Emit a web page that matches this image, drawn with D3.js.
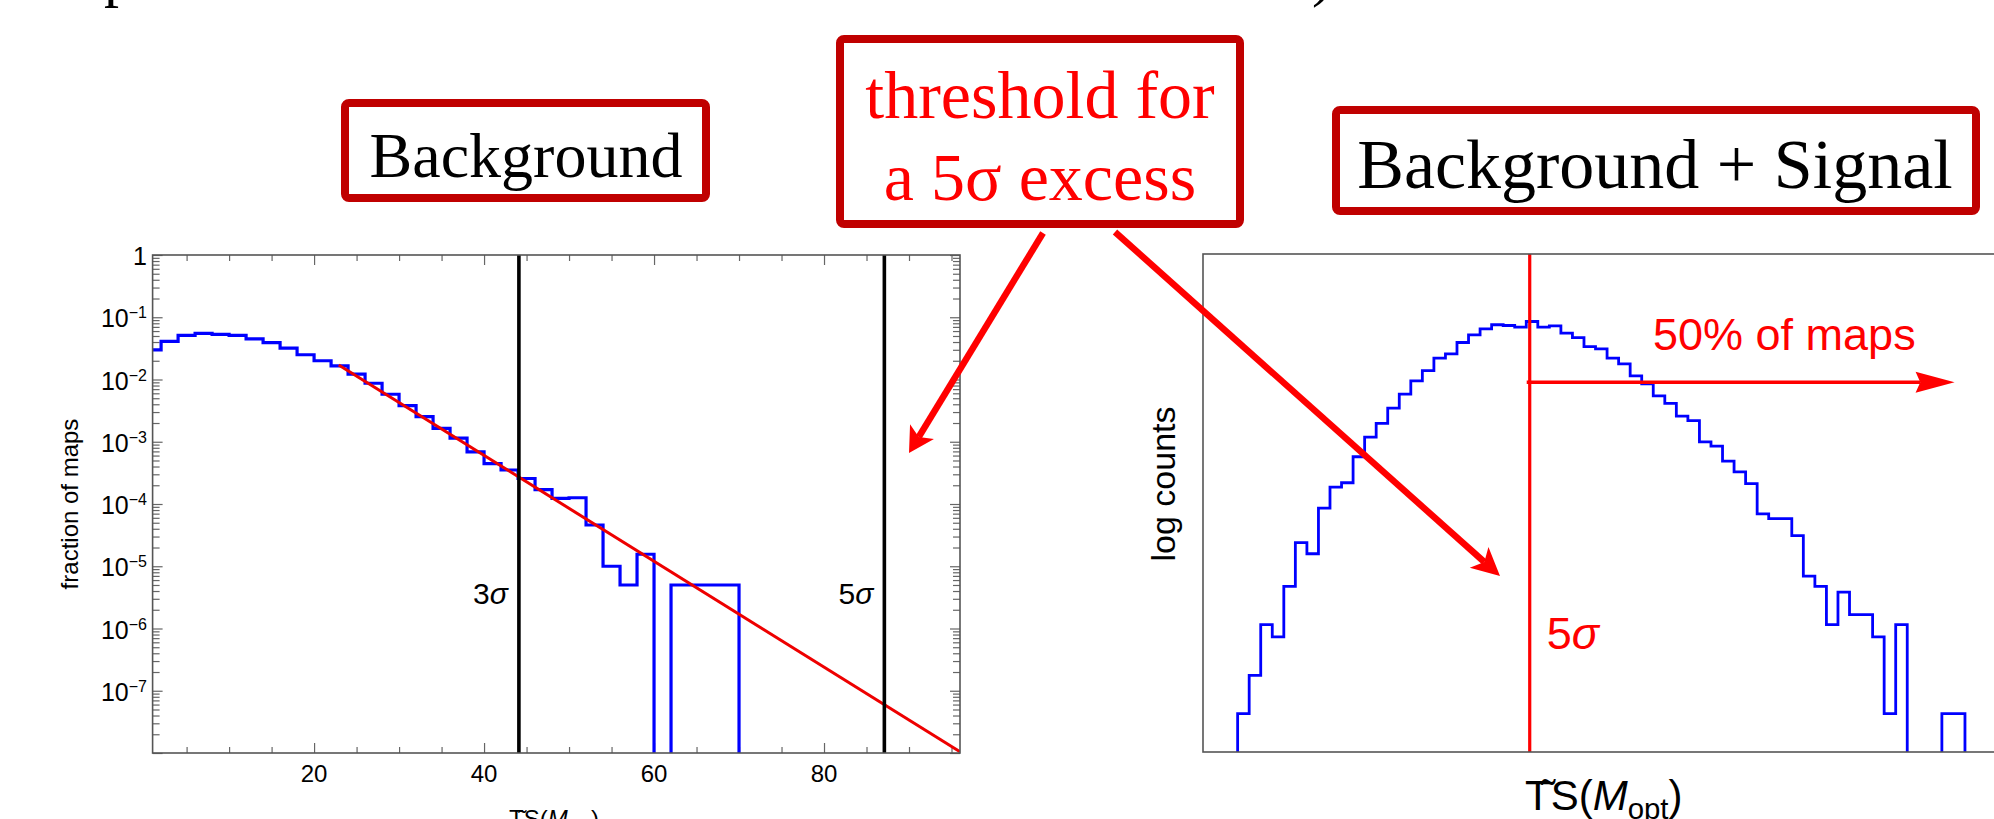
<!DOCTYPE html>
<html>
<head>
<meta charset="utf-8">
<script src="https://cdn.jsdelivr.net/npm/d3@7"></script>
<style>
  body { margin: 0; background: #fff; }
  svg { display: block; }
</style>
</head>
<body>
<svg id="chart" width="1994" height="819"></svg>
<script>
// ---------- data: background-only maps (left panel) ----------
const bgEdges = [0, 2, 4, 6, 8, 10, 12, 14, 16, 18, 20, 22, 24, 26, 28, 30, 32, 34,
                 36, 38, 40, 42, 44, 46, 48, 50, 52, 54, 56, 58, 60, 62, 64, 66, 68, 70];
const bgFraction = [0.030, 0.041, 0.051, 0.055, 0.053, 0.051, 0.045, 0.039, 0.032, 0.025,
                    0.020, 0.0165, 0.0122, 0.0087, 0.0058, 0.0038, 0.00253, 0.00164, 0.00114, 0.00069,
                    0.000445, 0.000352, 0.000257, 0.00017, 0.000123, 0.000126, 0.000046, 0.00001, 0.000005, 0.0000156,
                    0, 0.000005, 0.000005, 0.000005, 0.000005];
const bgFit = [[22.9, 1.71e-2], [96, 1.05e-8]];
const sigmaNames = ["3", "5"];
const sigmaTS = [44.1, 87.1];
const bgXTicks = [20, 40, 60, 80];
const bgXMinor = [5, 10, 15, 25, 30, 35, 45, 50, 55, 65, 70, 75, 85, 90, 95];
const bgYExponents = [0, -1, -2, -3, -4, -5, -6, -7, -8];

// ---------- data: background + signal maps (right panel) ----------
const sigCounts = [1, 2, 5, 4, 10, 22, 18, 41, 60, 65,
                   104, 148, 190, 250, 322, 410, 494, 618, 668, 820,
                   942, 1050, 1130, 1115, 1083, 1198, 1083, 1109, 971, 897,
                   762, 731, 618, 557, 449, 388, 312, 273, 217, 200,
                   136, 126, 96, 79, 64, 37, 34, 34, 25, 12,
                   10, 5, 9, 6, 6, 4, 1, 5, 0, 0,
                   0, 1, 1];
const sigThreshold = 25.3;   // bin position of the 5 sigma threshold
const sigArrowEnd = 62.1;
const sigArrowCount = 400;

// ---------- layout ----------
const L = { left: 152.6, right: 960, top: 255, bottom: 753 };
const R = { left: 1203, right: 1999.6, top: 254, bottom: 752 };
const sans = "'Liberation Sans', Arial, sans-serif";
const serif = "'Liberation Serif', 'Times New Roman', serif";
const boxRed = "#c00000";

const svg = d3.select("#chart");
const defs = svg.append("defs");

const xL = d3.scaleLinear().domain([1, 96]).range([L.left, L.right]);
const yL = d3.scaleLog().domain([1e-8, 1]).range([L.bottom, L.top]);
const xR = d3.scaleLinear().domain([-3, 66]).range([R.left, R.right]);
const yR = d3.scaleLog().domain([0.5, 4060]).range([R.bottom, R.top]);

defs.append("clipPath").attr("id", "clip-left")
    .append("rect").attr("x", L.left).attr("y", L.top)
    .attr("width", L.right - L.left).attr("height", L.bottom - L.top);
defs.append("clipPath").attr("id", "clip-right")
    .append("rect").attr("x", R.left).attr("y", R.top)
    .attr("width", R.right - R.left).attr("height", R.bottom - R.top);

function stepPoints(edges, values, x, y, floor) {
    const pts = [];
    values.forEach((v, i) => {
        const yy = v > 0 ? y(v) : floor;
        pts.push([x(edges[i]), yy], [x(edges[i + 1]), yy]);
    });
    return pts;
}

function arrow(g, x1, y1, x2, y2, width, len, wid, notch) {
    const a = Math.atan2(y2 - y1, x2 - x1);
    const back = len * notch;
    g.append("line")
        .attr("x1", x1).attr("y1", y1)
        .attr("x2", x2 - Math.cos(a) * back).attr("y2", y2 - Math.sin(a) * back)
        .attr("stroke", "#ff0000").attr("stroke-width", width);
    g.append("path")
        .attr("d", `M0,0L${-len},${-wid / 2}L${-back},0L${-len},${wid / 2}Z`)
        .attr("transform", `translate(${x2},${y2}) rotate(${a * 180 / Math.PI})`)
        .attr("fill", "#ff0000");
}

function tickGroup(axis, transform) {
    svg.append("g")
        .attr("transform", transform)
        .attr("color", "#666")
        .call(axis.tickSizeOuter(0).tickFormat(""))
        .call(g => g.select(".domain").remove())
        .call(g => g.selectAll("line").attr("stroke-width", 1.2));
}

// ---------- left panel ----------
const decades = bgYExponents.map(e => Math.pow(10, e));
const minorY = yL.ticks().filter(v => Math.abs(Math.log10(v) - Math.round(Math.log10(v))) > 1e-6);

tickGroup(d3.axisTop(xL).tickValues(bgXTicks).tickSize(10), `translate(0,${L.bottom})`);
tickGroup(d3.axisTop(xL).tickValues(bgXMinor).tickSize(6), `translate(0,${L.bottom})`);
tickGroup(d3.axisBottom(xL).tickValues(bgXTicks).tickSize(10), `translate(0,${L.top})`);
tickGroup(d3.axisBottom(xL).tickValues(bgXMinor).tickSize(6), `translate(0,${L.top})`);
tickGroup(d3.axisRight(yL).tickValues(decades).tickSize(10), `translate(${L.left},0)`);
tickGroup(d3.axisRight(yL).tickValues(minorY).tickSize(7), `translate(${L.left},0)`);
tickGroup(d3.axisLeft(yL).tickValues(decades).tickSize(10), `translate(${L.right},0)`);
tickGroup(d3.axisLeft(yL).tickValues(minorY).tickSize(7), `translate(${L.right},0)`);

const leftPlot = svg.append("g").attr("clip-path", "url(#clip-left)");
const bgPts = stepPoints(bgEdges, bgFraction, xL, yL, L.bottom + 10);
bgPts.push([xL(bgEdges[bgEdges.length - 1]), L.bottom + 10]);
leftPlot.append("path")
    .attr("d", d3.line()(bgPts))
    .attr("fill", "none").attr("stroke", "#0000ff")
    .attr("stroke-width", 3.2).attr("stroke-linejoin", "miter");
leftPlot.append("path")
    .attr("d", d3.line().x(d => xL(d[0])).y(d => yL(d[1]))(bgFit))
    .attr("fill", "none").attr("stroke", "#ee0000").attr("stroke-width", 3);

sigmaTS.forEach((s, i) => {
    svg.append("line")
        .attr("x1", xL(s)).attr("x2", xL(s))
        .attr("y1", L.top).attr("y2", L.bottom)
        .attr("stroke", "#000").attr("stroke-width", 3.6);
    const t = svg.append("text")
        .attr("x", xL(s) - 11).attr("y", 604)
        .attr("text-anchor", "end")
        .attr("font-family", sans).attr("font-size", 30);
    t.append("tspan").text(sigmaNames[i]);
    t.append("tspan").attr("font-style", "italic").text("σ");
});

svg.append("rect")
    .attr("x", L.left).attr("y", L.top)
    .attr("width", L.right - L.left).attr("height", L.bottom - L.top)
    .attr("fill", "none").attr("stroke", "#555").attr("stroke-width", 1.6);

svg.append("g").selectAll("text")
    .data(bgXTicks)
    .join("text")
    .attr("x", d => xL(d)).attr("y", 782)
    .attr("text-anchor", "middle")
    .attr("font-family", sans).attr("font-size", 24)
    .text(d => d);

const yLab = svg.append("g").selectAll("text")
    .data(bgYExponents.filter(e => e > -8))
    .join("text")
    .attr("x", 147).attr("y", d => yL(Math.pow(10, d)) + 10)
    .attr("text-anchor", "end")
    .attr("font-family", sans).attr("font-size", 25);
yLab.filter(d => d === 0).text("1");
yLab.filter(d => d !== 0).each(function (d) {
    const t = d3.select(this);
    t.append("tspan").text("10");
    t.append("tspan").attr("dy", -9).attr("font-size", 16).text("\u2212" + (-d));
});

svg.append("text")
    .attr("transform", "translate(78,504) rotate(-90)")
    .attr("text-anchor", "middle")
    .attr("font-family", sans).attr("font-size", 24)
    .text("fraction of maps");

function tsLabel(x, y, size) {
    const t = svg.append("text")
        .attr("x", x).attr("y", y)
        .attr("font-family", sans).attr("font-size", size);
    t.append("tspan").text("TS(");
    t.append("tspan").attr("font-style", "italic").text("M");
    t.append("tspan").attr("dy", size * 0.22).attr("font-size", size * 0.7).text("opt");
    t.append("tspan").attr("dy", -size * 0.22).text(")");
    svg.append("text")
        .attr("x", x + size * 0.56).attr("y", y)
        .attr("text-anchor", "middle")
        .attr("font-family", sans).attr("font-size", size)
        .text("\u02DC");
}
tsLabel(509, 827, 24);

// ---------- right panel ----------
const rightPlot = svg.append("g").attr("clip-path", "url(#clip-right)");
const sigEdges = d3.range(sigCounts.length + 1);
const sigPts = stepPoints(sigEdges, sigCounts, xR, yR, R.bottom + 10);
sigPts.unshift([xR(0), R.bottom + 10]);
sigPts.push([xR(sigCounts.length), R.bottom + 10]);
rightPlot.append("path")
    .attr("d", d3.line()(sigPts))
    .attr("fill", "none").attr("stroke", "#0000ff")
    .attr("stroke-width", 2.8).attr("stroke-linejoin", "miter");

rightPlot.append("line")
    .attr("x1", xR(sigThreshold)).attr("x2", xR(sigThreshold))
    .attr("y1", R.top).attr("y2", R.bottom)
    .attr("stroke", "#ff0000").attr("stroke-width", 3.2);

svg.append("rect")
    .attr("x", R.left).attr("y", R.top)
    .attr("width", R.right - R.left + 20).attr("height", R.bottom - R.top)
    .attr("fill", "none").attr("stroke", "#555").attr("stroke-width", 1.6);

const annot = svg.append("g");
arrow(annot, xR(sigThreshold) - 3, yR(sigArrowCount), xR(sigArrowEnd), yR(sigArrowCount), 3.4, 39, 21, 0.88);

annot.append("text")
    .attr("x", 1653).attr("y", 350)
    .attr("font-family", sans).attr("font-size", 45)
    .attr("fill", "#ff0000")
    .text("50% of maps");

const five = annot.append("text")
    .attr("x", xR(sigThreshold) + 17).attr("y", 649)
    .attr("font-family", sans).attr("font-size", 45)
    .attr("fill", "#ff0000");
five.append("tspan").text("5");
five.append("tspan").attr("font-style", "italic").text("σ");

svg.append("text")
    .attr("transform", "translate(1175,484) rotate(-90)")
    .attr("text-anchor", "middle")
    .attr("font-family", sans).attr("font-size", 34)
    .text("log counts");

tsLabel(1525, 810, 42);

// ---------- boxes and arrows ----------
function box(x, y, w, h) {
    svg.append("rect")
        .attr("x", x).attr("y", y).attr("width", w).attr("height", h)
        .attr("rx", 4)
        .attr("fill", "#fff").attr("stroke", boxRed).attr("stroke-width", 8);
}

box(345, 103, 361, 95);
svg.append("text")
    .attr("x", 526).attr("y", 177)
    .attr("text-anchor", "middle")
    .attr("font-family", serif).attr("font-size", 64)
    .text("Background");

box(840, 39, 400, 185);
svg.append("text")
    .attr("x", 1040).attr("y", 118)
    .attr("text-anchor", "middle")
    .attr("font-family", serif).attr("font-size", 68)
    .attr("fill", "#ff0000")
    .text("threshold for");
svg.append("text")
    .attr("x", 1040).attr("y", 200)
    .attr("text-anchor", "middle")
    .attr("font-family", serif).attr("font-size", 68)
    .attr("fill", "#ff0000")
    .text("a 5σ excess");

box(1336, 110, 640, 101);
svg.append("text")
    .attr("x", 1655).attr("y", 188)
    .attr("text-anchor", "middle")
    .attr("font-family", serif).attr("font-size", 70)
    .text("Background + Signal");

arrow(annot, 1043, 233, 909, 453, 6.5, 25, 28, 0.75);
arrow(annot, 1115, 232, 1500, 576, 6.5, 28, 28, 0.75);

// fragments of the text line above the figure
svg.append("text").attr("x", 104).attr("y", -5)
    .attr("font-family", serif).attr("font-size", 60).text("p");
svg.append("text").attr("x", 1312).attr("y", -5)
    .attr("font-family", serif).attr("font-size", 60).text(")");
</script>
</body>
</html>
